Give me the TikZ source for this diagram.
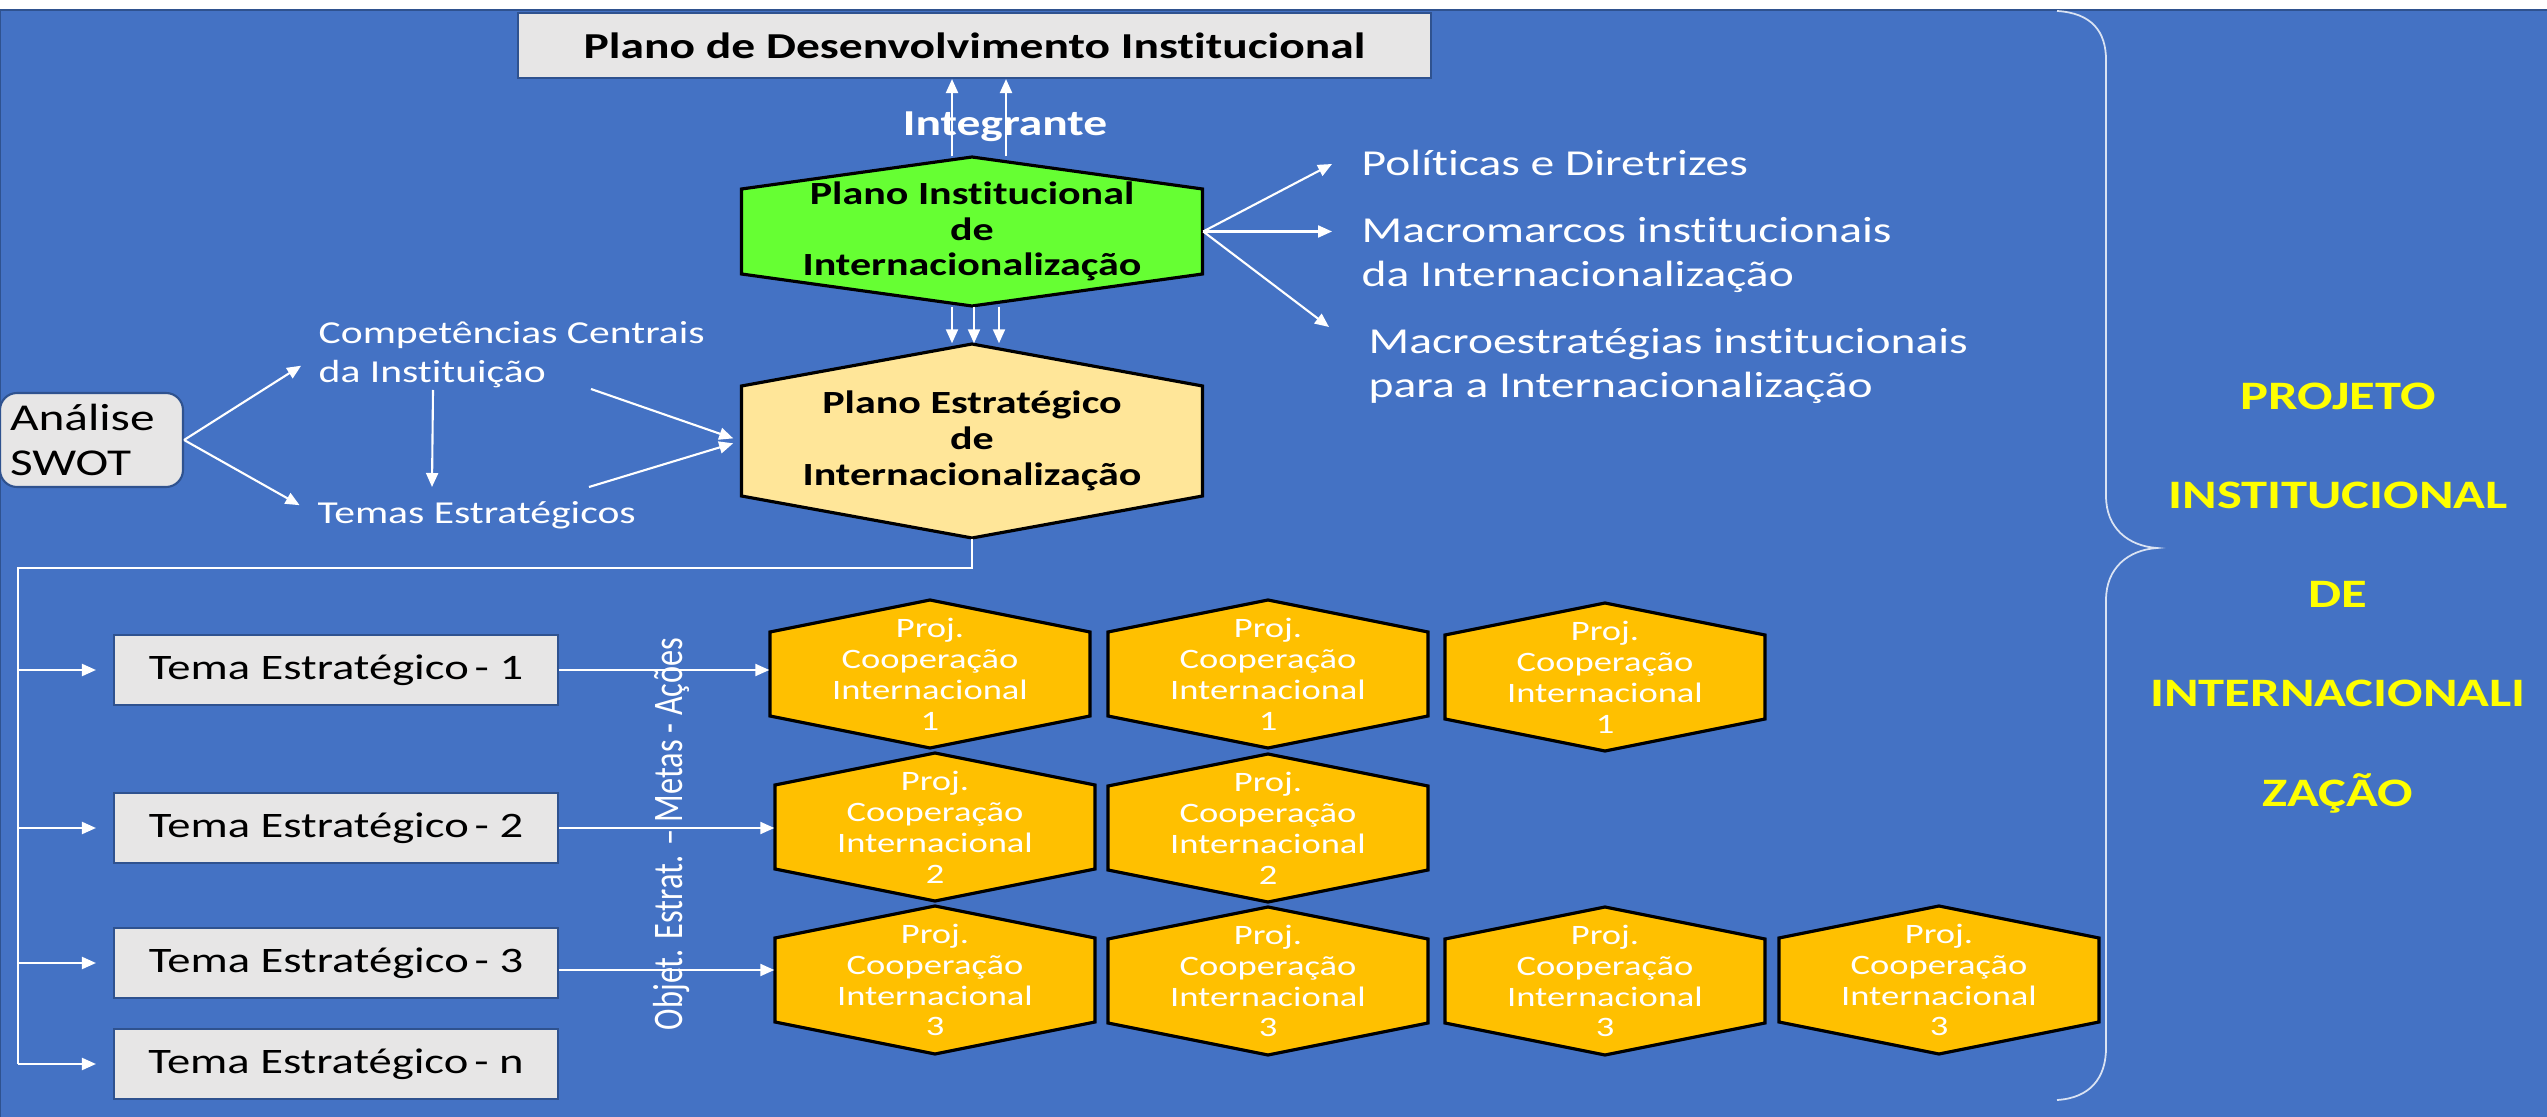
\documentclass[tikz,border=0pt]{standalone}
\usepackage{fontspec}
\usepackage{graphicx}
\setmainfont[FakeStretch=1.3, Ligatures=NoCommon]{Carlito}
\newfontfamily\narrowfont[Ligatures=NoCommon]{Carlito}
\usetikzlibrary{arrows.meta,calc}

\definecolor{slideblue}{HTML}{4472C4}
\definecolor{slideedge}{HTML}{2F528F}
\definecolor{boxgray}{HTML}{E7E6E6}
\definecolor{pidgreen}{HTML}{66FF33}
\definecolor{pestan}{HTML}{FFE699}
\definecolor{projgold}{HTML}{FFC000}
\definecolor{titleyellow}{HTML}{FFFF00}

% hexagon with pointed top and bottom: shape style, text style, name, cx, cy, half width, half height, rise, text
\newcommand{\hexnode}[9]{%
  \draw[#1] (#4,#5-#7) -- (#4+#6,#5-#7+#8) -- (#4+#6,#5+#7-#8) -- (#4,#5+#7)
    -- (#4-#6,#5+#7-#8) -- (#4-#6,#5-#7+#8) -- cycle;
  \draw (#4,#5) node[#2, minimum width=#6*0.2mm, minimum height=#7*0.2mm] (#3) {#9};
}

\begin{document}
\begin{tikzpicture}[x=0.1mm, y=-0.1mm,
    conn/.style={draw=white, line width=0.6pt},
    arr/.style={conn, -{Triangle[length=1.4mm,width=1.2mm]}},
    graybox/.style={draw=slideedge, line width=0.6pt, fill=boxgray, inner sep=0pt, text=black},
    pihex/.style={draw=black, line width=0.9pt, fill=pidgreen},
    pehex/.style={draw=black, line width=0.9pt, fill=pestan},
    projhex/.style={draw=black, line width=0.9pt, fill=projgold},
    hexlabel/.style={align=center, inner sep=0pt, text=black, font=\bfseries\fontsize{9.2pt}{10.2pt}\selectfont},
    projlabel/.style={align=center, inner sep=0pt, text=white, font=\fontsize{8pt}{8.8pt}\selectfont},
    txt/.style={text=white, inner sep=0pt, font=\fontsize{10.4pt}{12.4pt}\selectfont},
    smalltxt/.style={text=white, inner sep=0pt, font=\fontsize{9.1pt}{11.1pt}\selectfont},
    brace/.style={draw=white!80!slideblue, line width=0.5pt}]

  \useasboundingbox (0,0) rectangle (2547,1117);
  \fill[white] (0,0) rectangle (2547,1117);
  \fill[slideblue] (0,10) rectangle (2547,1117);
  \draw[slideedge, line width=0.7pt] (0,1117) -- (0,10) -- (2547,10);

  \draw (974.5,45.5) node[graybox, minimum width=91.3mm, minimum height=6.5mm, font=\bfseries\fontsize{10.4pt}{12pt}\selectfont] (pdi) {Plano de Desenvolvimento Institucional};
  \draw (1005,127) node[text=white, inner sep=0pt, font=\bfseries\fontsize{10.4pt}{12pt}\selectfont] (integ) {Integrante};

  \hexnode{pihex}{hexlabel}{pii}{972}{231.5}{230.5}{74.5}{32}{Plano Institucional\\de\\Internacionalização}
  \hexnode{pehex}{hexlabel}{pei}{972}{441}{230.5}{97}{42}{Plano Estratégico\\de\\Internacionalização}

  \draw[arr] ([xshift=-2mm]pii.north) -- ([xshift=-2mm]pii.north |- pdi.south);
  \draw[arr] ([xshift=3.4mm]pii.north) -- ([xshift=3.4mm]pii.north |- pdi.south);
  \foreach \dx in {-2mm,0.2mm,2.7mm}
    \draw[arr] ([xshift=\dx]pii.south) -- ([xshift=\dx]pii.south |- pei.north);

  \draw (1361,163) node[txt, anchor=west] (pol) {Políticas e Diretrizes};
  \draw (1361,255) node[txt, anchor=west, align=left] (mac) {Macromarcos institucionais\\da Internacionalização};
  \draw (1368,366) node[txt, anchor=west, align=left] (mes) {Macroestratégias institucionais\\para a Internacionalização};
  \draw[arr] (pii.east) -- ($(pol.west)+(-29,1)$);
  \draw[arr, shorten >=2.9mm] (pii.east) -- (pii.east -| mac.west);
  \draw[arr] (pii.east) -- ($(mes.west)+(-39,-39)$);

  \draw (91.5,440) node[graybox, rounded corners=1.7mm, text width=16.3mm, inner xsep=1mm, minimum height=9.4mm, align=left, font=\fontsize{10.8pt}{12.6pt}\selectfont] (swot) {Análise\\SWOT};
  \draw (318,355) node[smalltxt, anchor=west, align=left] (comp) {Competências Centrais\\da Instituição};
  \draw (317,515) node[smalltxt, anchor=west] (temas) {Temas Estratégicos};
  \draw[arr, shorten >=2mm] (swot.east) -- (comp.west);
  \draw[arr, shorten >=2mm] (swot.east) -- (temas.west);
  \draw[arr] ($(comp.west)+(115,35)$) -- ($(temas.west)+(115,-28)$);
  \draw[arr, shorten >=0.8mm] ($(comp.west)+(273,34)$) -- (pei.west);
  \draw[arr, shorten >=0.8mm] ($(temas.west)+(272,-28)$) -- (pei.west);

  \foreach \t/\y/\k in {t1/670/1, t2/828/2, t3/963/3, tn/1064/n}
    \draw (336,\y) node[graybox, minimum width=44.4mm, minimum height=7mm, font=\fontsize{10.2pt}{12pt}\selectfont] (\t) {Tema Estratégico\,- \k};

  \coordinate (trunk) at (18,568);
  \draw[conn] (pei.south) |- (trunk) -- (trunk |- tn.west);
  \foreach \t in {t1,t2,t3,tn}
    \draw[arr, shorten >=1.7mm] (trunk |- \t.west) -- (\t.west);

  \foreach \h/\x/\y/\k in {h11/930/674/1, h12/1268/674/1, h13/1605/677/1, h21/935/827/2, h22/1268/828/2, h31/935/980/3, h32/1268/981/3, h33/1605/981/3, h34/1939/980/3}{
    \hexnode{projhex}{projlabel}{\h}{\x}{\y}{160}{74}{32}{Proj.\\Cooperação\\Internacional\\\k}
  }

  \draw[arr] (t1.east) -- (t1.east -| h11.west);
  \draw[arr] (t2.east) -- (t2.east -| h21.west);
  \draw[arr] ([yshift=-0.7mm]t3.east) -- ([yshift=-0.7mm]t3.east -| h31.west);

  \draw (671,834) node[rotate=90, text=white, inner sep=0pt, font=\narrowfont\fontsize{9.2pt}{11pt}\selectfont] (oem) {\scalebox{1}[1.3]{Objet. Estrat. – Metas - Ações}};

  \draw[brace] (2057,11) .. controls (2092,13) and (2106,32) .. (2106,60) -- (2106,496)
    .. controls (2106,528) and (2128,546) .. (2157,548)
    .. controls (2128,550) and (2106,568) .. (2106,600) -- (2106,1048)
    .. controls (2106,1078) and (2090,1098) .. (2057,1100);

  \draw (2338,598) node[align=center, text=titleyellow, inner sep=0pt, font=\bfseries\fontsize{11.5pt}{28.2pt}\selectfont] (pit) {PROJETO\\INSTITUCIONAL\\DE\\INTERNACIONALI\\ZAÇÃO};
\end{tikzpicture}
\end{document}
